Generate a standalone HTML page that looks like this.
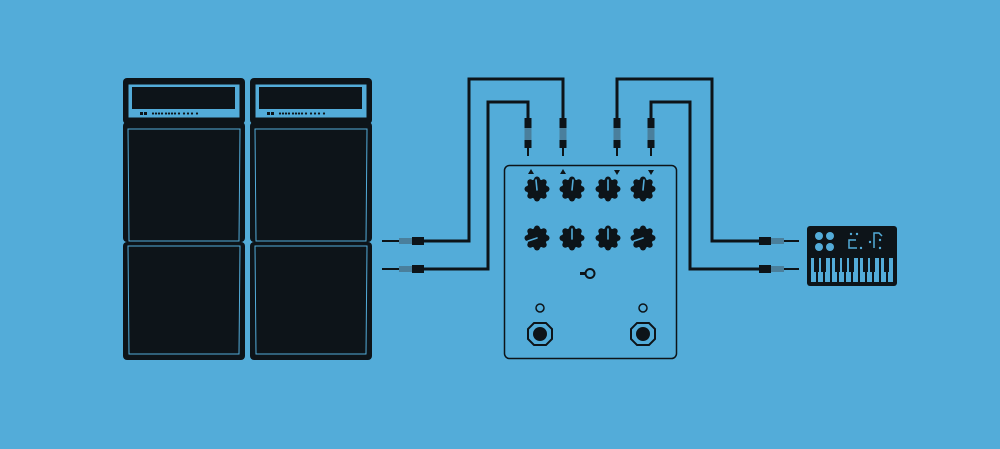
<!DOCTYPE html>
<html><head><meta charset="utf-8"><style>html,body{margin:0;padding:0;background:#53acd9;}svg{display:block}</style></head>
<body>
<svg width="1000" height="449" viewBox="0 0 1000 449" xmlns="http://www.w3.org/2000/svg">
<rect width="1000" height="449" fill="#53acd9"/>
<defs>
<g id="stack">
  <rect x="0" y="0" width="122" height="46" rx="4" fill="#0d1419"/>
  <rect x="5" y="6" width="112" height="34" fill="#53acd9" stroke="#0d1419" stroke-width="1"/>
  <rect x="9" y="9" width="103" height="22" fill="#0d1419"/>
  <rect x="17" y="34" width="3" height="3" fill="#0d1419"/><rect x="21" y="34" width="3" height="3" fill="#0d1419"/>
  <g fill="#0d1419">
    <circle cx="30" cy="35.5" r="1.1"/><circle cx="33" cy="35.5" r="1.1"/><circle cx="36" cy="35.5" r="1.1"/><circle cx="39" cy="35.5" r="1.1"/>
    <circle cx="43" cy="35.5" r="1.1"/><circle cx="46" cy="35.5" r="1.1"/><circle cx="49" cy="35.5" r="1.1"/><circle cx="52" cy="35.5" r="1.1"/>
    <circle cx="56" cy="35.5" r="1.1"/><circle cx="61" cy="35.5" r="1.1"/><circle cx="65" cy="35.5" r="1.1"/><circle cx="69" cy="35.5" r="1.1"/>
    <circle cx="74" cy="35.5" r="1.1"/>
  </g>
  <rect x="0" y="44" width="122" height="120" rx="4" fill="#0d1419"/>
  <path d="M5 51 L117 51 L116 163 L6 163 Z" fill="#0d1419" stroke="#53acd9" stroke-width="1"/>
  <rect x="0" y="164" width="122" height="118" rx="4" fill="#0d1419"/>
  <path d="M5 168 L117 168 L116 276 L6 276 Z" fill="#0d1419" stroke="#53acd9" stroke-width="1"/>
</g>
<g id="knob" stroke="none">
  <circle r="10" fill="#0d1419"/>
  <g fill="#0d1419">
    <circle cx="0" cy="-9.5" r="3"/><circle cx="6.7" cy="-6.7" r="3"/><circle cx="9.5" cy="0" r="3"/><circle cx="6.7" cy="6.7" r="3"/>
    <circle cx="0" cy="9.5" r="3"/><circle cx="-6.7" cy="6.7" r="3"/><circle cx="-9.5" cy="0" r="3"/><circle cx="-6.7" cy="-6.7" r="3"/>
  </g>
</g>
<g id="vjack">
  <rect x="-3.5" y="0" width="7" height="10" fill="#0d1419"/>
  <rect x="-3.5" y="10" width="7" height="12" fill="#4a7f9c"/>
  <rect x="-3.5" y="22" width="7" height="8" fill="#0d1419"/>
  <rect x="-1" y="30" width="2" height="8" fill="#0d1419"/>
</g>
</defs>
<use href="#stack" x="123" y="78"/>
<use href="#stack" x="250" y="78"/>
<g fill="none" stroke="#0d1419" stroke-width="3">
  <path d="M423 241 H469 V79 H563 V118"/>
  <path d="M423 269 H488 V102 H528 V118"/>
  <path d="M617 118 V79 H712 V241 H760"/>
  <path d="M651 118 V102 H690 V269 H760"/>
</g>
<g>
  <rect x="382" y="240" width="17" height="2" fill="#0d1419"/>
  <rect x="399" y="238" width="13" height="6" fill="#4a7f9c"/>
  <rect x="412" y="237" width="12" height="8" fill="#0d1419"/>
  <rect x="382" y="268" width="17" height="2" fill="#0d1419"/>
  <rect x="399" y="266" width="13" height="6" fill="#4a7f9c"/>
  <rect x="412" y="265" width="12" height="8" fill="#0d1419"/>
</g>
<g>
  <rect x="759" y="237" width="12" height="8" fill="#0d1419"/>
  <rect x="771" y="238" width="13" height="6" fill="#4a7f9c"/>
  <rect x="784" y="240" width="15" height="2" fill="#0d1419"/>
  <rect x="759" y="265" width="12" height="8" fill="#0d1419"/>
  <rect x="771" y="266" width="13" height="6" fill="#4a7f9c"/>
  <rect x="784" y="268" width="15" height="2" fill="#0d1419"/>
</g>
<use href="#vjack" x="528" y="118"/>
<use href="#vjack" x="563" y="118"/>
<use href="#vjack" x="617" y="118"/>
<use href="#vjack" x="651" y="118"/>
<rect x="504.5" y="165.5" width="172" height="193" rx="5" fill="#53acd9" stroke="#0d1419" stroke-width="1.5"/>
<g fill="#0d1419">
  <path d="M531 169 L534 174 L528 174 Z"/>
  <path d="M563 169 L566 174 L560 174 Z"/>
  <path d="M614 170 L620 170 L617 175 Z"/>
  <path d="M648 170 L654 170 L651 175 Z"/>
</g>
<use href="#knob" x="537" y="189"/><use href="#knob" x="572" y="189"/><use href="#knob" x="608" y="189"/><use href="#knob" x="643" y="189"/>
<use href="#knob" x="537" y="238"/><use href="#knob" x="572" y="238"/><use href="#knob" x="608" y="238"/><use href="#knob" x="643" y="238"/>
<g stroke="#53acd9" stroke-width="1.6" stroke-linecap="round">
  <line x1="537" y1="190" x2="536" y2="180"/>
  <line x1="572" y1="190" x2="573" y2="180"/>
  <line x1="608" y1="190" x2="608" y2="180"/>
  <line x1="643" y1="190" x2="644" y2="180"/>
  <line x1="537" y1="238" x2="528" y2="241"/>
  <line x1="572" y1="239" x2="572" y2="229"/>
  <line x1="608" y1="239" x2="608" y2="229"/>
  <line x1="643" y1="238" x2="634" y2="241"/>
</g>
<rect x="580" y="272" width="6" height="3" fill="#0d1419"/>
<circle cx="590" cy="273.5" r="4.5" fill="none" stroke="#0d1419" stroke-width="2"/>
<circle cx="540" cy="308" r="4" fill="none" stroke="#0d1419" stroke-width="1.5"/>
<circle cx="643" cy="308" r="4" fill="none" stroke="#0d1419" stroke-width="1.5"/>
<g fill="none" stroke="#0d1419" stroke-width="2">
  <path d="M534 323 L546 323 L552 329 L552 339 L546 345 L534 345 L528 339 L528 329 Z"/>
  <path d="M637 323 L649 323 L655 329 L655 339 L649 345 L637 345 L631 339 L631 329 Z"/>
</g>
<circle cx="540" cy="334" r="7" fill="#0d1419"/>
<circle cx="643" cy="334" r="7" fill="#0d1419"/>
<rect x="807" y="226" width="90" height="60" rx="3" fill="#0d1419"/>
<g fill="#53acd9">
  <circle cx="819" cy="236" r="4"/><circle cx="830" cy="236" r="4"/>
  <circle cx="819" cy="247" r="4"/><circle cx="830" cy="247" r="4"/>
  <circle cx="851" cy="234" r="1.2"/><circle cx="857" cy="234" r="1.2"/>
  <circle cx="861" cy="248" r="1.2"/><circle cx="870" cy="242" r="1.2"/>
  <circle cx="880" cy="240" r="1.2"/><circle cx="880" cy="248" r="1.2"/>
</g>
<g fill="none" stroke="#53acd9" stroke-width="1.5">
  <path d="M856 240 H849 V248 H857"/>
  <path d="M874 248 V233 H879 L882 236"/>
</g>
<rect x="811" y="258" width="82" height="24" fill="#53acd9"/>
<g fill="#0d1419">
  <rect x="816" y="258" width="2" height="24"/><rect x="823" y="258" width="2" height="24"/>
  <rect x="830" y="258" width="2" height="24"/><rect x="837" y="258" width="2" height="24"/>
  <rect x="844" y="258" width="2" height="24"/><rect x="851" y="258" width="2" height="24"/>
  <rect x="858" y="258" width="2" height="24"/><rect x="865" y="258" width="2" height="24"/>
  <rect x="872" y="258" width="2" height="24"/><rect x="879" y="258" width="2" height="24"/>
  <rect x="886" y="258" width="2" height="24"/>
  <rect x="814" y="258" width="5" height="14"/><rect x="821" y="258" width="5" height="14"/>
  <rect x="835" y="258" width="5" height="14"/><rect x="842" y="258" width="5" height="14"/>
  <rect x="849" y="258" width="5" height="14"/><rect x="863" y="258" width="5" height="14"/>
  <rect x="870" y="258" width="5" height="14"/><rect x="884" y="258" width="5" height="14"/>
</g>
</svg>
</body></html>
